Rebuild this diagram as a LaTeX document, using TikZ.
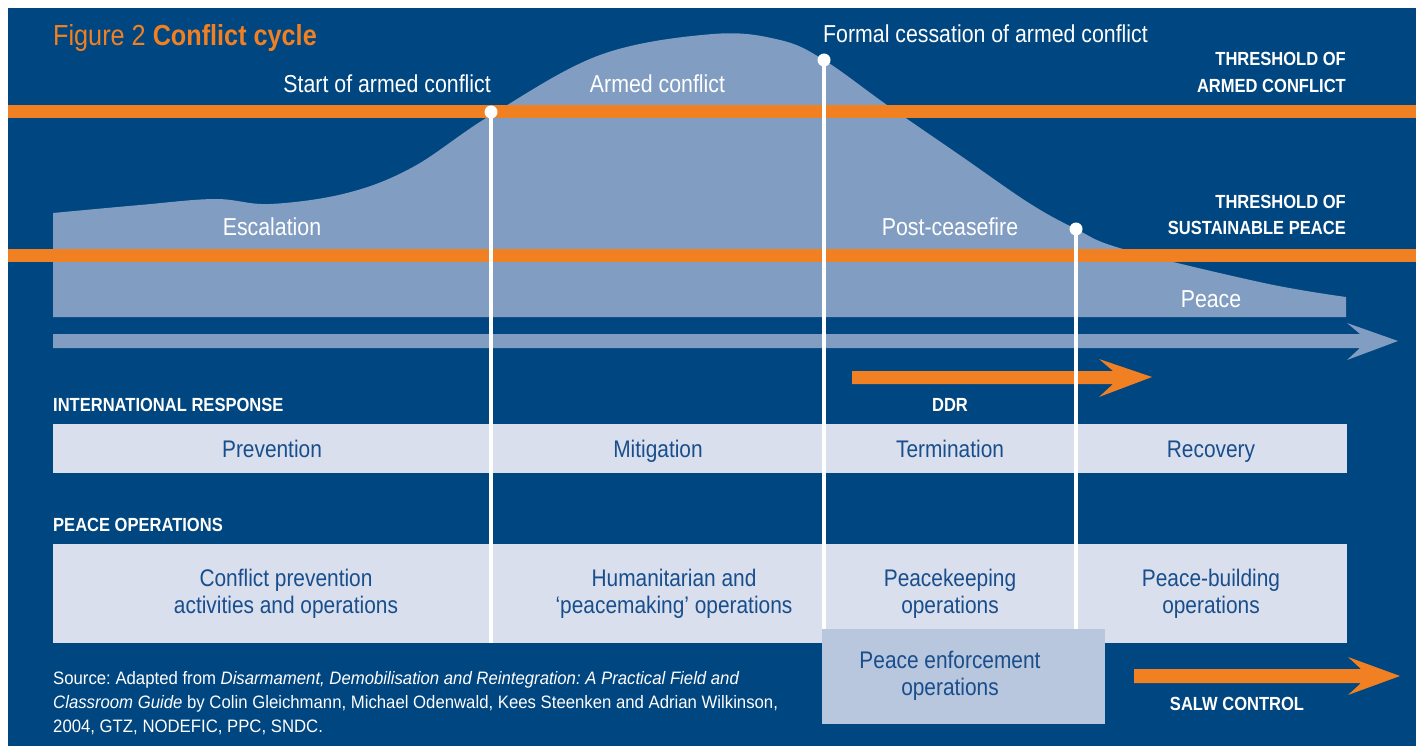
\documentclass[tikz,border=0pt]{standalone}
\usepackage{fontspec}
\setmainfont{Liberation Sans}[FakeStretch=0.87]
\newfontfamily\srcfont{Liberation Sans}[FakeStretch=0.93]
\frenchspacing
\definecolor{bgblue}{RGB}{0,70,128}
\definecolor{conforange}{RGB}{241,128,35}
\definecolor{shapeblue}{RGB}{129,157,194}
\definecolor{boxlight}{RGB}{217,223,237}
\definecolor{pebox}{RGB}{184,198,222}
\definecolor{boxtext}{RGB}{25,78,140}
\begin{document}
\begin{tikzpicture}[x=1pt,y=-1pt,
  lbl/.style={inner sep=0, text=white, font=\fontsize{24.5}{28}\selectfont},
  thr/.style={inner sep=0, text=white, font=\bfseries\fontsize{19}{27}\selectfont, align=right},
  hdr/.style={inner sep=0, text=white, font=\bfseries\fontsize{19}{22}\selectfont},
  boxtxt/.style={inner sep=0, text=boxtext, font=\fontsize{24}{27}\selectfont, align=center},
  vline/.style={white, line width=3.5pt},
  dot/.style={white}
]
\useasboundingbox (0,0) rectangle (1416,746);
\fill[bgblue] (8,8) rectangle (1416,746);
% conflict intensity shape
\fill[shapeblue] (53,317) -- plot[smooth, tension=0.6] coordinates {(53,213) (140,205) (215,199) (270,204) (347,193) (413,167) (491,115) (600,55) (713,34) (780,40) (824,60) (887,105) (961,156) (1029,203) (1076,229) (1123,249) (1264,283) (1346,297)} -- (1346,317) -- cycle;
% thresholds
\fill[conforange] (8,105) rectangle (1416,118);
\fill[conforange] (8,249) rectangle (1416,262);
% time axis
\fill[shapeblue] (53,334) -- (1360,334) -- (1347,323) -- (1398,341) -- (1347,360) -- (1360,348) -- (53,348) -- cycle;
% DDR arrow
\fill[conforange] (852,371) -- (1113,371) -- (1099,359) -- (1152,377) -- (1099,397) -- (1113,384) -- (852,384) -- cycle;
% SALW arrow
\fill[conforange] (1134,669) -- (1361,669) -- (1348,657) -- (1400,676) -- (1348,695) -- (1361,683) -- (1134,683) -- cycle;
% boxes
\fill[boxlight] (53,424) rectangle (1347,473);
\fill[boxlight] (53,544) rectangle (1347,643);
\fill[pebox] (822,629) rectangle (1105,724);
% phase lines
\coordinate (p1) at (491,112);
\coordinate (p2) at (824,60);
\coordinate (p3) at (1076,229);
\coordinate (b1) at (491,643);
\coordinate (b2) at (824,629);
\coordinate (b3) at (1076,629);
\draw[vline] (p1) -- (b1);
\draw[vline] (p2) -- (b2);
\draw[vline] (p3) -- (b3);
\fill[dot] (p1) circle (6.5);
\fill[dot] (p2) circle (6.5);
\fill[dot] (p3) circle (6.5);
% texts
\node[anchor=base west, inner sep=0, text=conforange, font=\fontsize{29}{31}\selectfont] (title) at (53,46) {Figure 2 \textbf{Conflict cycle}};
\node[lbl, anchor=base east] (start) at (491,93) {Start of armed conflict};
\node[lbl, anchor=base] (armed) at (657.5,93) {Armed conflict};
\node[lbl, anchor=base west] (formal) at (823,43) {Formal cessation of armed conflict};
\node[thr, anchor=base east] (thr1) at (1346,93) {THRESHOLD OF\\ARMED CONFLICT};
\node[thr, anchor=base east] (thr2) at (1346,235) {THRESHOLD OF\\SUSTAINABLE PEACE};
\node[lbl, anchor=base] (esc) at (272,236) {Escalation};
\node[lbl, anchor=base] (post) at (950,236) {Post-ceasefire};
\node[lbl, anchor=base] (peace) at (1211,307) {Peace};
\node[hdr, anchor=base west] (intl) at (53,411) {INTERNATIONAL RESPONSE};
\node[hdr, anchor=base] (ddr) at (950,411) {DDR};
\node[boxtxt, anchor=base] (prev) at (272,457) {Prevention};
\node[boxtxt, anchor=base] (miti) at (658,457) {Mitigation};
\node[boxtxt, anchor=base] (term) at (950,457) {Termination};
\node[boxtxt, anchor=base] (reco) at (1211,457) {Recovery};
\node[hdr, anchor=base west] (pops) at (53,531) {PEACE OPERATIONS};
\node[boxtxt, anchor=base] (cprev) at (286,613) {Conflict prevention\\activities and operations};
\node[boxtxt, anchor=base] (huma) at (674,613) {Humanitarian and\\‘peacemaking’ operations};
\node[boxtxt, anchor=base] (pkeep) at (950,613) {Peacekeeping\\operations};
\node[boxtxt, anchor=base] (pbuild) at (1211,613) {Peace-building\\operations};
\node[boxtxt, anchor=base] (penf) at (950,695) {Peace enforcement\\operations};
\node[hdr, anchor=base] (salw) at (1237,710) {SALW CONTROL};
\node[anchor=base west, inner sep=0, text=white, align=left, font=\srcfont\fontsize{18}{24}\selectfont] (src) at (53,732) {Source: Adapted from \textit{Disarmament, Demobilisation and Reintegration: A Practical Field and}\\\textit{Classroom Guide} by Colin Gleichmann, Michael Odenwald, Kees Steenken and Adrian Wilkinson,\\2004, GTZ, NODEFIC, PPC, SNDC.};
\end{tikzpicture}
\end{document}
